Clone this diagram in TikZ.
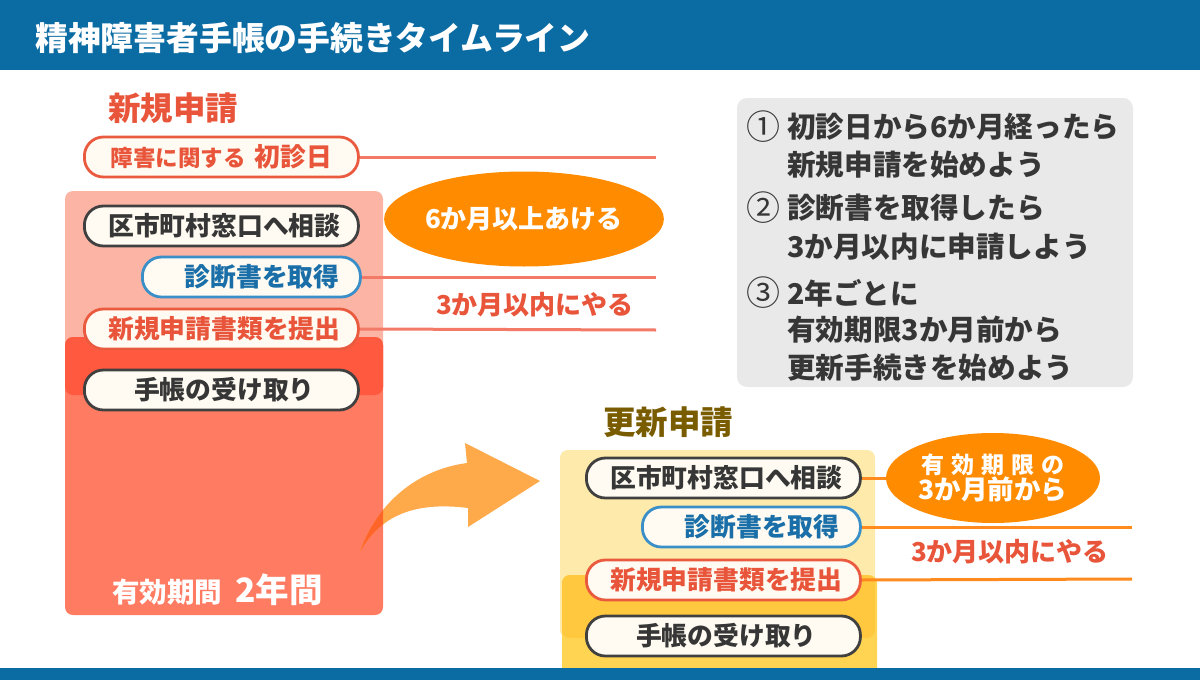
\documentclass[tikz,border=0pt]{standalone}
\usepackage{fontspec}
\setmainfont{Noto Sans CJK JP}
\usetikzlibrary{shapes.geometric}
\definecolor{barblue}{HTML}{0B6CA4}
\definecolor{txtred}{HTML}{E8553A}
\definecolor{pillred}{HTML}{EA5A3F}
\definecolor{lline}{HTML}{F47A68}
\definecolor{lightpink}{HTML}{FCB4A5}
\definecolor{redlow}{HTML}{FF7B62}
\definecolor{redover}{HTML}{FF5A40}
\definecolor{ellorange}{HTML}{FF8C00}
\definecolor{rline}{HTML}{FF8A1E}
\definecolor{yellight}{HTML}{FEEAAA}
\definecolor{yellow2}{HTML}{FFD453}
\definecolor{yelover}{HTML}{FFC83E}
\definecolor{brown}{HTML}{7A5C00}
\definecolor{graybox}{HTML}{E9E9E9}
\definecolor{darktxt}{HTML}{363636}
\definecolor{pilldark}{HTML}{404040}
\definecolor{pillblue}{HTML}{3A8FC8}
\definecolor{txtblue}{HTML}{1A6FA8}
\definecolor{cream}{HTML}{FFFBF2}
\definecolor{arrorange}{HTML}{FFAA4A}
\definecolor{arrdark}{HTML}{FF6428}
\newcommand{\fs}[1]{\fontsize{#1}{#1}\selectfont\bfseries}
\tikzset{
  pill/.style={draw, line width=2.8, fill=cream, rounded corners=19, minimum height=40, inner sep=0, font=\fs{25.8}, anchor=west},
  darkpill/.style={pill, draw=pilldark, text=darktxt, minimum width=274},
  redpill/.style={pill, draw=pillred, text=txtred, minimum width=274},
  bluepill/.style={pill, draw=pillblue, text=txtblue, minimum width=218, inner xsep=21, text width=176, align=right},
  lline/.style={draw=lline, line width=3},
  rline/.style={draw=rline, line width=3},
  boxtxt/.style={anchor=west, inner sep=0, text=darktxt, font=\fs{28.6}},
  numtxt/.style={anchor=west, inner sep=0, text=darktxt, font=\fontsize{34}{34}\selectfont},
  plain/.style={inner sep=0}
}
\begin{document}
\begin{tikzpicture}[x=1pt,y=-1pt]
\useasboundingbox (0,0) rectangle (1200,680);
\fill[white] (0,0) rectangle (1200,680);
% left block backgrounds
\fill[lightpink, rounded corners=8] (65,191) rectangle (383,395);
\fill[redlow, rounded corners=8] (65,337) rectangle (383,615);
\fill[redover, rounded corners=8] (65,337) rectangle (383,395);
% right block backgrounds
\fill[yellight, rounded corners=8] (560,450) rectangle (875,638);
\fill[yellow2, rounded corners=8] (562,575) rectangle (877,690);
\fill[yelover, rounded corners=8] (562,575) rectangle (875,638);
% curved arrow
\fill[arrorange] (360,552) .. controls (376,505) and (415,470) .. (467,463) -- (465,443) -- (540,481) -- (468,527) -- (468,508) .. controls (420,502) and (382,512) .. (360,552) -- cycle;
\begin{scope}
\clip[rounded corners=8] (65,337) rectangle (383,615);
\fill[arrdark] (360,552) .. controls (376,505) and (415,470) .. (467,463) -- (465,443) -- (540,481) -- (468,527) -- (468,508) .. controls (420,502) and (382,512) .. (360,552) -- cycle;
\end{scope}
% bars
\fill[barblue] (0,0) rectangle (1200,70);
\fill[barblue] (0,668) rectangle (1200,680);
\node[plain, anchor=west, text=white, font=\fs{32.8}] (title) at (35,38) {精神障害者手帳の手続きタイムライン};
% left: new application
\node[plain, anchor=west, text=txtred, font=\fs{32.5}] (newhead) at (108,108) {新規申請};
\node[redpill] (first) at (83,157) {{\fs{22.5}障害に関する}\hspace{9pt}初診日};
\node[darkpill] (lconsult) at (83,226) {\hspace{6pt}区市町村窓口へ相談};
\node[bluepill] (ldiag) at (141,277) {診断書を取得};
\node[redpill] (lsubmit) at (83,329) {\hspace{6pt}新規申請書類を提出};
\node[darkpill] (lreceive) at (83,390) {\hspace{6pt}手帳の受け取り};
\coordinate (le1) at (656,157);
\coordinate (le2) at (656,277);
\coordinate (le3) at (656,330);
\draw[lline] (first.east) -- (le1);
\draw[lline] (ldiag.east) -- (le2);
\draw[lline] (lsubmit.east) -- (le3);
\node[ellipse, fill=ellorange, minimum width=257, minimum height=95, inner sep=0, text=white, font=\fs{26}] (sixm) at (524,219) {6か月以上あける};
\node[plain, text=txtred, font=\fs{26}] (lwithin) at (535,305) {3か月以内にやる};
\node[plain, anchor=west, text=white] (valid) at (112,590) {{\fs{27.5}有効期間}\hspace{13pt}{\fs{33.5}2年間}};
% gray box
\fill[graybox, rounded corners=10] (737,98) rectangle (1133,387);
\node[numtxt] (n1) at (746,127) {①};
\node[boxtxt] (t1a) at (787,127) {初診日から6か月経ったら};
\node[boxtxt] (t1b) at (787,165) {新規申請を始めよう};
\node[numtxt] (n2) at (746,208) {②};
\node[boxtxt] (t2a) at (787,208) {診断書を取得したら};
\node[boxtxt] (t2b) at (787,247) {3か月以内に申請しよう};
\node[numtxt] (n3) at (746,293) {③};
\node[boxtxt] (t3a) at (787,293) {2年ごとに};
\node[boxtxt] (t3b) at (787,330) {有効期限3か月前から};
\node[boxtxt] (t3c) at (787,368) {更新手続きを始めよう};
% right: renewal
\node[plain, anchor=west, text=brown, font=\fs{32.5}] (renhead) at (603,422) {更新申請};
\node[darkpill] (rconsult) at (585,478) {\hspace{6pt}区市町村窓口へ相談};
\node[bluepill] (rdiag) at (641,527) {診断書を取得};
\node[redpill] (rsubmit) at (585,580) {\hspace{6pt}新規申請書類を提出};
\node[darkpill] (rreceive) at (585,636) {\hspace{6pt}手帳の受け取り};
\node[ellipse, fill=ellorange, minimum width=214, minimum height=90, inner sep=0, text=white, align=center] (expiry) at (993,478) {{\fs{23}有\hspace{7pt}効\hspace{7pt}期\hspace{7pt}限\hspace{7pt}の}\\[0pt]{\fs{26.5}3か月前から}};
\coordinate (re2) at (1132,527);
\coordinate (re3) at (1132,579);
\draw[rline] (rconsult.east) -- (expiry.west);
\draw[rline] (rdiag.east) -- (re2);
\draw[rline] (rsubmit.east) -- (re3);
\node[plain, text=txtred, font=\fs{26}] (rwithin) at (1010,552) {3か月以内にやる};
\end{tikzpicture}
\end{document}
